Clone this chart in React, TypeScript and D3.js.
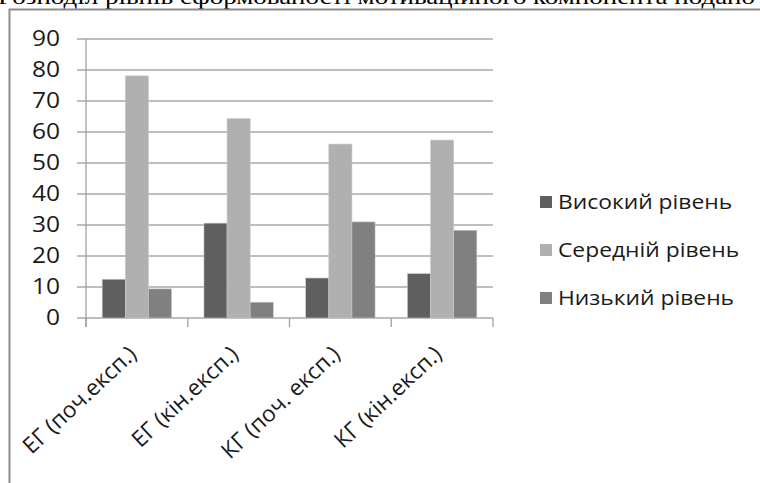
import React from 'react';
import * as d3 from 'd3';

const categories = ['ЕГ (поч.експ.)', 'ЕГ (кін.експ.)', 'КГ (поч. експ.)', 'КГ (кін.експ.)'];
const seriesNames = ['Високий рівень', 'Середній рівень', 'Низький рівень'];
const high = [12.5, 30.6, 12.9, 14.3];
const middle = [78.1, 64.3, 56.1, 57.4];
const low = [9.4, 5.1, 31, 28.3];
const yTicks = [0, 10, 20, 30, 40, 50, 60, 70, 80, 90];
const colors = ['#5f5f5f', '#b0b0b0', '#808080'];
const caption = 'Розподіл рівнів сформованості мотиваційного компонента подано';

const W = 760;
const H = 483;
const plot = { left: 86, right: 493, top: 39, bottom: 318 };
const font = '"Open Sans", sans-serif';
const stretch = 1.17; // the source picture is a bit wider than tall

const App = () => {
  const series = [high, middle, low];

  const x = d3.scaleBand().domain(categories).range([plot.left, plot.right]).paddingInner(0).paddingOuter(0);
  const inner = d3
    .scaleBand()
    .domain(seriesNames)
    .range([0, x.bandwidth()])
    .paddingInner(0)
    .paddingOuter(0.7); // excel gap width ~150%
  const y = d3.scaleLinear().domain([0, 90]).range([plot.bottom, plot.top]);

  const tickXs = categories.map((c) => x(c)).concat([plot.right]);

  return (
    <svg width={W} height={H} style={{ position: 'absolute', left: 0, top: 0, background: '#fff' }}>
      {/* cut-off line of text above the chart */}
      <text x={-2} y={4} fontFamily='"Liberation Serif", serif' fontSize={22} textLength={757} lengthAdjust="spacingAndGlyphs" fill="#000">
        {caption}
      </text>

      {/* chart frame */}
      <rect x={9.5} y={9.5} width={W + 10} height={H + 10} fill="none" stroke="#8c8c8c" strokeWidth={2} />

      {/* gridlines + y ticks */}
      {yTicks.map((t) => (
        <g key={t}>
          <line x1={77} x2={plot.right} y1={y(t)} y2={y(t)} stroke="#a8a8a8" strokeWidth={1.3} />
          <text
            transform={`translate(60,${y(t)}) scale(${stretch},1)`}
            dy="0.35em"
            textAnchor="end"
            fontFamily={font}
            fontSize={21}
            fill="#1a1a1a"
          >
            {t}
          </text>
        </g>
      ))}

      {/* axes */}
      <line x1={plot.left} x2={plot.left} y1={plot.top} y2={plot.bottom + 9} stroke="#a0a0a0" strokeWidth={1.3} />
      {tickXs.map((tx, i) => (
        <line key={i} x1={tx} x2={tx} y1={plot.bottom} y2={plot.bottom + 9} stroke="#a0a0a0" strokeWidth={1.3} />
      ))}

      {/* bars */}
      {categories.map((c, ci) => (
        <g key={c} transform={`translate(${x(c)},0)`}>
          {series.map((s, si) => (
            <rect
              key={si}
              x={inner(seriesNames[si])}
              y={y(s[ci])}
              width={inner.bandwidth()}
              height={y(0) - y(s[ci])}
              fill={colors[si]}
              stroke="#c8c8c8"
              strokeWidth={0.6}
            />
          ))}
        </g>
      ))}

      {/* x labels */}
      {categories.map((c) => (
        <text
          key={c}
          transform={`translate(${x(c) + x.bandwidth() / 2 + 1},${plot.bottom + 38}) rotate(-43)`}
          textAnchor="end"
          fontFamily={font}
          fontSize={22.5}
          fill="#1a1a1a"
        >
          {c}
        </text>
      ))}

      {/* legend */}
      {seriesNames.map((n, i) => (
        <g key={n} transform={`translate(540,${202 + i * 48})`}>
          <rect x={0} y={-6} width={12} height={12} fill={colors[i]} />
          <text
            transform={`translate(18,0) scale(${stretch},1)`}
            dy="0.35em"
            fontFamily={font}
            fontSize={19.5}
            fill="#1a1a1a"
          >
            {n}
          </text>
        </g>
      ))}
    </svg>
  );
};

export default App;
